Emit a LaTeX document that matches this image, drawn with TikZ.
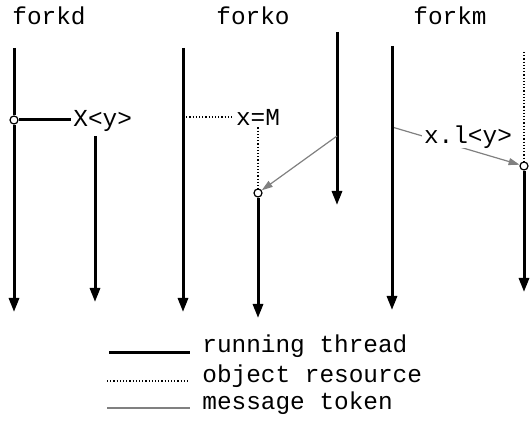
\documentclass[tikz,border=0pt]{standalone}
\usepackage{fontspec}
\newfontfamily\codefont{Liberation Mono}
\usetikzlibrary{arrows.meta,backgrounds}
\tikzset{
  threadline/.style = {line width=1.5pt},
  thread/.style = {threadline, -{Triangle[length=7pt,width=5pt]}},
  resource/.style = {densely dotted, line width=0.6pt},
  token/.style = {gray, line width=0.6pt},
  tokenarrow/.style = {token, -{Triangle[length=5.5pt,width=3.5pt]}},
  fork/.style = {draw, circle, fill=white, inner sep=0pt, minimum size=4pt, line width=0.6pt},
  code/.style = {font=\codefont\fontsize{12.2}{14}\selectfont, inner sep=1pt}
}
\begin{document}
\begin{tikzpicture}[x=0.5pt, y=-0.5pt]
  \useasboundingbox (0,0) rectangle (530,427);

  % titles
  \node[code] at ( 49,16) (forkd) {forkd};
  \node[code] at (253,16) (forko) {forko};
  \node[code] at (450,16) (forkm) {forkm};

  % forkd
  \coordinate (d1top) at (14, 48);
  \coordinate (d1end) at (14,312);
  \node[fork] at (14,120) (d1fork) {};
  \node[code, anchor=west] at (71,121) (dname) {X<y>};
  \coordinate (d2top) at (95,136);
  \coordinate (d2end) at (95,302);

  \draw[threadline] (d1top) -- (d1fork);
  \draw[thread] (d1fork) -- (d1end);
  \draw[threadline] (d1fork) -- (d1fork -| dname.west);
  \draw[thread] (d2top) -- (d2end);

  % forko
  \coordinate (o1top) at (183, 48);
  \coordinate (o1end) at (183,312);
  \coordinate (o1res) at (183,117);
  \node[code] at (258,117) (oname) {x=M};
  \node[fork] at (258,193) (o2fork) {};
  \coordinate (o2end) at (258,318);
  \coordinate (o3top) at (337, 32);
  \coordinate (o3end) at (337,205);
  \coordinate (o3msg) at (337,136);

  \draw[thread] (o1top) -- (o1end);
  \draw[resource] (o1res) -- (oname);
  \draw[resource] (oname) -- (o2fork);
  \draw[thread] (o2fork) -- (o2end);
  \draw[thread] (o3top) -- (o3end);
  \draw[tokenarrow] (o3msg) -- (o2fork);

  % forkm
  \coordinate (m1top) at (392, 46);
  \coordinate (m1end) at (392,310);
  \coordinate (m1msg) at (392,127);
  \node[code, fill=white, inner ysep=0pt] at (468,137) (mname) {x.l<y>};
  \node[fork] at (524,166) (m2fork) {};
  \coordinate (m2top) at (524, 52);
  \coordinate (m2end) at (524,292);

  \draw[thread] (m1top) -- (m1end);
  \begin{scope}[on background layer]
    \draw[tokenarrow] (m1msg) -- (m2fork);
  \end{scope}
  \draw[resource] (m2top) -- (m2fork);
  \draw[thread] (m2fork) -- (m2end);

  % legend
  \coordinate (lt1) at (109,352);
  \coordinate (lt2) at (190,352);
  \coordinate (lr1) at (107,381);
  \coordinate (lr2) at (190,381);
  \coordinate (lm1) at (107,408);
  \coordinate (lm2) at (190,408);
  \node[code, anchor=west] at (200,346) (ltext) {running thread};
  \node[code, anchor=west] at (200,376) (rtext) {object resource};
  \node[code, anchor=west] at (200,403) (mtext) {message token};

  \draw[threadline] (lt1) -- (lt2);
  \draw[resource] (lr1) -- (lr2);
  \draw[token] (lm1) -- (lm2);
\end{tikzpicture}
\end{document}
